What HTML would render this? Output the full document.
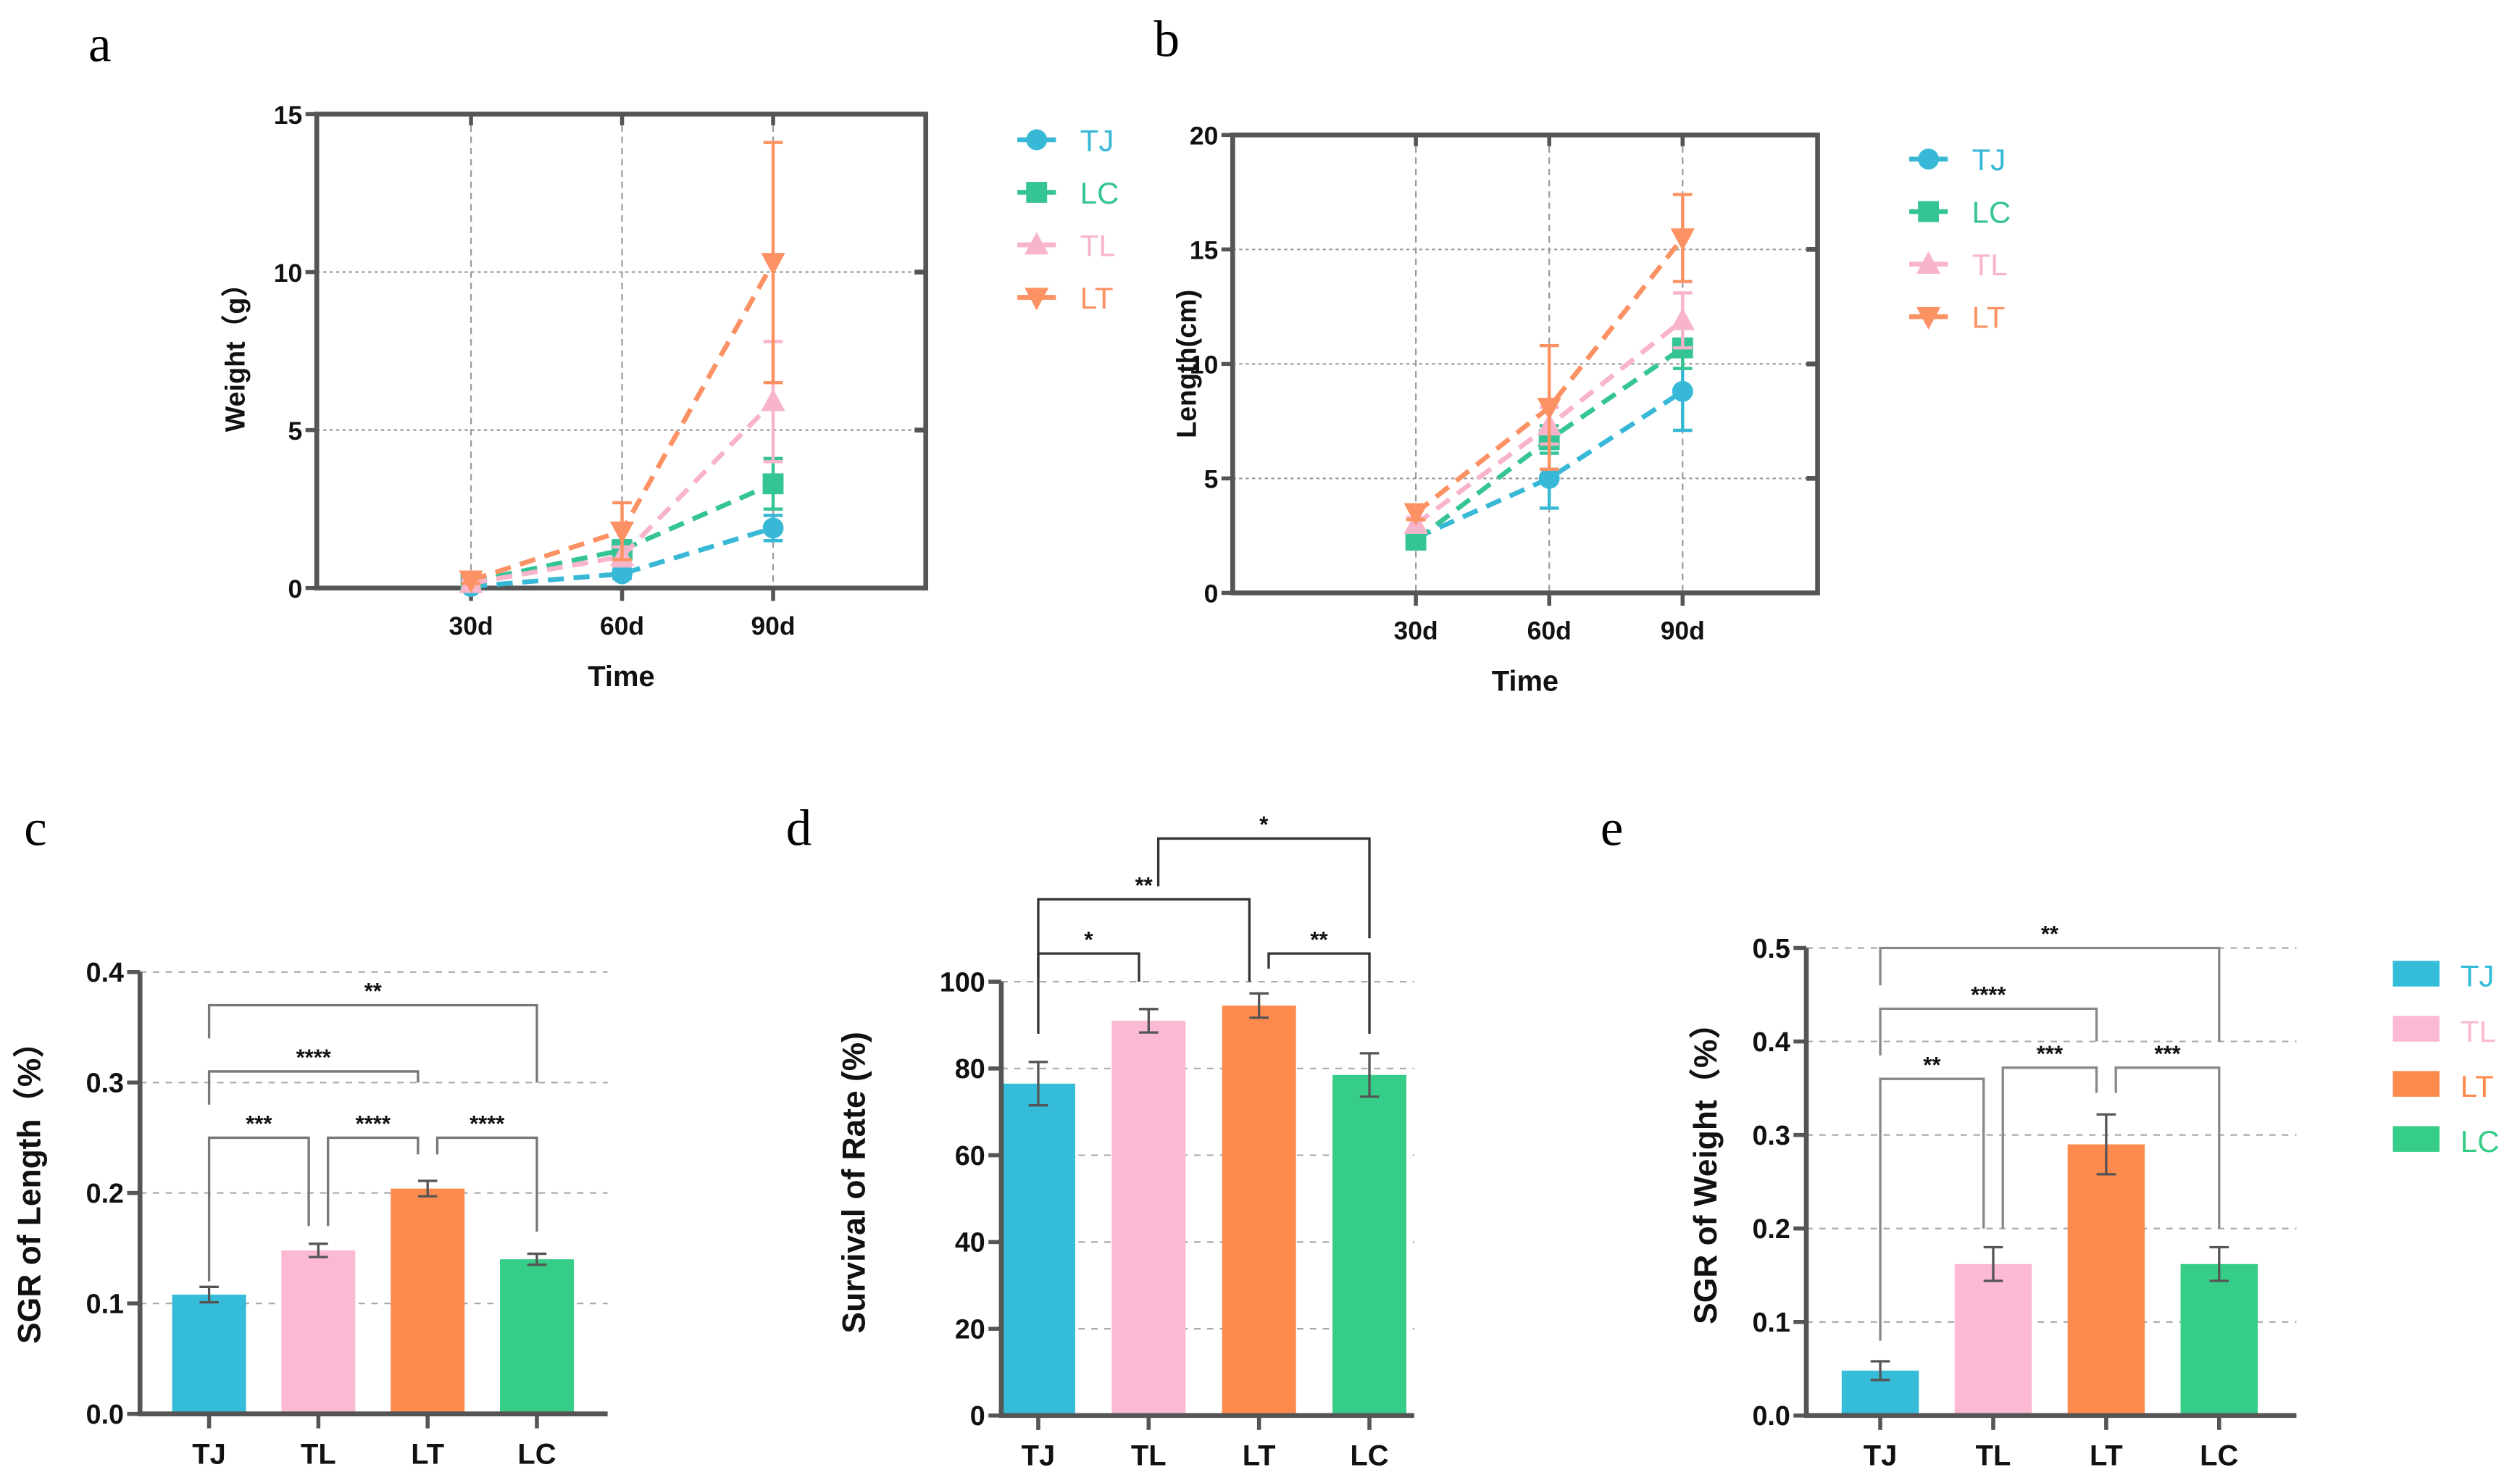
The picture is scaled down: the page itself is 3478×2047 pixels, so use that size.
<!DOCTYPE html>
<html><head><meta charset="utf-8"><style>
html,body{margin:0;padding:0;background:#fff;}
svg{display:block;}
</style></head><body>
<svg id="fig" width="3478" height="2047" viewBox="0 0 1568 923" xmlns="http://www.w3.org/2000/svg" font-family="Liberation Sans, Noto Sans CJK SC, sans-serif"></svg>
<script>
// ---- data: panel a (weight) ----
const timeCats = ["30d","60d","90d"];
const groupsLine = ["TJ","LC","TL","LT"];
const wTJ = [0.05,0.45,1.9], wTJe = [0.05,0.15,0.4];
const wLC = [0.2,1.2,3.3], wLCe = [0.1,0.3,0.8];
const wTL = [0.15,1.0,5.9], wTLe = [0.1,0.3,1.9];
const wLT = [0.25,1.8,10.3], wLTe = [0.1,0.9,3.8];
const wTicks = [0,5,10,15];
// ---- data: panel b (length) ----
const lTJ = [2.4,5.0,8.8], lTJe = [0.3,1.3,1.7];
const lLC = [2.3,6.7,10.7], lLCe = [0.3,0.6,0.9];
const lTL = [3.0,7.3,11.9], lTLe = [0.3,0.8,1.2];
const lLT = [3.5,8.1,15.5], lLTe = [0.3,2.7,1.9];
const lTicks = [0,5,10,15,20];
// ---- data: bar panels ----
const barCats = ["TJ","TL","LT","LC"];
const sgrL = [0.108,0.148,0.204,0.140], sgrLe = [0.007,0.006,0.007,0.005];
const sgrLTicks = ["0.0","0.1","0.2","0.3","0.4"];
const surv = [76.5,91,94.5,78.5], survE = [5,2.7,2.8,5];
const survTicks = ["0","20","40","60","80","100"];
const sgrW = [0.048,0.162,0.290,0.162], sgrWe = [0.010,0.018,0.032,0.018];
const sgrWTicks = ["0.0","0.1","0.2","0.3","0.4","0.5"];
// brackets: [from idx, to idx, level, leftLegEnd, rightLegEnd, label]
const brC = [[0,3,0.37,0.34,0.30,"**"],[0,2,0.31,0.28,0.30,"****"],[0,1,0.25,0.12,0.17,"***"],[1,2,0.25,0.17,0.235,"****"],[2,3,0.25,0.235,0.165,"****"]];
const brD = [[0,1,106.5,88,100,"*"],[0,2,119,101,100,"**"],[1,3,133,122,110,"*"],[2,3,106.5,103,88,"**"]];
const brE = [[0,3,0.5,0.46,0.40,"**"],[0,2,0.435,0.385,0.40,"****"],[0,1,0.36,0.08,0.20,"**"],[1,2,0.372,0.20,0.345,"***"],[2,3,0.372,0.345,0.20,"***"]];

const NS="http://www.w3.org/2000/svg";
const svg=document.getElementById('fig');
function mk(tag,attrs,parent){const e=document.createElementNS(NS,tag);for(const k in attrs)e.setAttribute(k,attrs[k]);(parent||svg).appendChild(e);return e;}
function txt(s,attrs,parent){const e=mk('text',attrs,parent);e.textContent=s;return e;}

const lineColors={TJ:"#37b8d6",LC:"#35c496",TL:"#f8b4cb",LT:"#fc9263"};
const barColors={TJ:"#34bcd8",TL:"#fbb9d3",LT:"#fd8b4e",LC:"#36cd88"};

[["a",62,38],["b",726,35],["c",22,526],["d",497,526],["e",1003,526]].forEach(p=>{
  const t=txt(p[0],{x:p[1],y:p[2],'font-size':32,'text-anchor':'middle',fill:'#000',style:'font-family:"Liberation Serif",serif'});
  
  
});

function marker(g,type,x,y,c){
  let m;
  if(type==="TJ") m=mk('circle',{cx:x,cy:y,r:6.5,fill:c},g);
  else if(type==="LC") m=mk('rect',{x:x-6.5,y:y-6.5,width:13,height:13,fill:c},g);
  else if(type==="TL") m=mk('path',{d:`M${x},${y-8} L${x+7.5},${y+6} L${x-7.5},${y+6}Z`,fill:c},g);
  else m=mk('path',{d:`M${x},${y+8} L${x+7.5},${y-6} L${x-7.5},${y-6}Z`,fill:c},g);
  return m;
}

function lineChart(o){
  const g=mk('g',{});
  
  
  const ys=v=>o.yb-(v-0)/(o.ymax)*(o.yb-o.yt);
  const xs=i=>o.xf+i*o.xstep;
  o.ticks.forEach(t=>{ if(t>0&&t<o.ymax){const l=mk('line',{x1:o.x0,x2:o.x1,y1:ys(t),y2:ys(t),stroke:'#9a9a9a','stroke-width':1,'stroke-dasharray':'2 2'},g);
    }});
  timeCats.forEach((c,i)=>{const l=mk('line',{x1:xs(i),x2:xs(i),y1:o.yt,y2:o.yb,stroke:'#9a9a9a','stroke-width':1,'stroke-dasharray':'4 3'},g);
    });
  const f=mk('rect',{x:o.x0,y:o.yt,width:o.x1-o.x0,height:o.yb-o.yt,fill:'none',stroke:'#555','stroke-width':3},g);
  
  o.ticks.forEach(t=>{
    mk('line',{x1:o.x0-7,x2:o.x0,y1:ys(t),y2:ys(t),stroke:'#555','stroke-width':2.5},g);
    if(t>0&&t<o.ymax) mk('line',{x1:o.x1-7,x2:o.x1,y1:ys(t),y2:ys(t),stroke:'#555','stroke-width':3},g);
    const tl=txt(String(t),{x:o.x0-9,y:ys(t)+6,'font-size':16,'font-weight':'bold','text-anchor':'end',fill:'#111'},g);
    
    
  });
  timeCats.forEach((c,i)=>{
    mk('line',{x1:xs(i),x2:xs(i),y1:o.yb,y2:o.yb+8,stroke:'#555','stroke-width':2.5},g);
    mk('line',{x1:xs(i),x2:xs(i),y1:o.yt,y2:o.yt+7,stroke:'#555','stroke-width':2.5},g);
    const tl=txt(c,{x:xs(i),y:o.yb+29,'font-size':16,'font-weight':'bold','text-anchor':'middle',fill:'#111'},g);
    
    
  });
  const xt=txt("Time",{x:(o.x0+o.x1)/2,y:o.yb+61,'font-size':18,'font-weight':'bold','text-anchor':'middle',fill:'#111'},g);
  
  
  const cy=(o.yt+o.yb)/2;
  const yt=txt(o.ytitle,{x:o.ytx,y:cy,'font-size':17,'font-weight':'bold','text-anchor':'middle',fill:'#111',transform:`rotate(-90 ${o.ytx} ${cy})`},g);
  
  
  o.series.forEach(s=>{
    const sg=mk('g',{},g);
    
    
    const c=lineColors[s.k];
    const pts=s.v.map((v,i)=>xs(i)+','+ys(v)).join(' ');
    const pl=mk('polyline',{points:pts,fill:'none',stroke:c,'stroke-width':3,'stroke-dasharray':'10 6'},sg);
    
    s.v.forEach((v,i)=>{
      const eb=mk('path',{d:`M${xs(i)},${ys(v+s.e[i])}V${ys(v-s.e[i])}M${xs(i)-6},${ys(v+s.e[i])}H${xs(i)+6}M${xs(i)-6},${ys(v-s.e[i])}H${xs(i)+6}`,stroke:c,'stroke-width':2,fill:'none'},sg);
      
      const m=marker(sg,s.k,xs(i),ys(v),c);
      
      
    });
  });
  groupsLine.forEach((k,i)=>{
    const lg=mk('g',{},g);
    
    
    const y=o.ly+i*o.lstep, c=lineColors[k];
    mk('line',{x1:o.lx-12,x2:o.lx+12,y1:y,y2:y,stroke:c,'stroke-width':3},lg);
    marker(lg,k,o.lx,y,c);
    txt(k,{x:o.lx+27,y:y+7,'font-size':19,fill:c},lg);
  });
}

lineChart({name:'chart-a-weight',x0:197,x1:576,yt:71,yb:366,ymax:15,ticks:wTicks,xf:293,xstep:94,ytitle:'Weight（g）',ytx:152,lx:645,ly:87,lstep:32.7,
  series:[{k:'TJ',v:wTJ,e:wTJe},{k:'LC',v:wLC,e:wLCe},{k:'TL',v:wTL,e:wTLe},{k:'LT',v:wLT,e:wLTe}]});
lineChart({name:'chart-b-length',x0:767,x1:1131,yt:84,yb:369,ymax:20,ticks:lTicks,xf:881,xstep:83,ytitle:'Length(cm)',ytx:744,lx:1200,ly:99,lstep:32.7,
  series:[{k:'TJ',v:lTJ,e:lTJe},{k:'LC',v:lLC,e:lLCe},{k:'TL',v:lTL,e:lTLe},{k:'LT',v:lLT,e:lLTe}]});

function barChart(o){
  const g=mk('g',{});
  
  
  const ymax=parseFloat(o.ticks[o.ticks.length-1]);
  const ys=v=>o.yb-v/ymax*(o.yb-o.yt);
  const xs=i=>o.xf+i*o.xstep;
  o.ticks.forEach(ts=>{const t=parseFloat(ts);
    if(t>0){const l=mk('line',{x1:o.x0,x2:o.x1,y1:ys(t),y2:ys(t),stroke:'#aaa','stroke-width':1,'stroke-dasharray':'4 4'},g);
      }
    mk('line',{x1:o.x0-8,x2:o.x0,y1:ys(t),y2:ys(t),stroke:'#555','stroke-width':2.5},g);
    const tl=txt(ts,{x:o.x0-10,y:ys(t)+6,'font-size':17,'font-weight':'bold','text-anchor':'end',fill:'#111'},g);
    
    
  });
  o.vals.forEach((v,i)=>{
    const k=barCats[i];
    const b=mk('rect',{x:xs(i)-o.bw/2,y:ys(v),width:o.bw,height:o.yb-ys(v),fill:barColors[k]},g);
    
    
    const e=o.errs[i];
    const eb=mk('path',{d:`M${xs(i)},${ys(v+e)}V${ys(v-e)}M${xs(i)-6},${ys(v+e)}H${xs(i)+6}M${xs(i)-6},${ys(v-e)}H${xs(i)+6}`,stroke:'#555','stroke-width':1.5,fill:'none'},g);
    
    mk('line',{x1:xs(i),x2:xs(i),y1:o.yb,y2:o.yb+9,stroke:'#555','stroke-width':2.5},g);
    const tl=txt(k,{x:xs(i),y:o.yb+31,'font-size':18,'font-weight':'bold','text-anchor':'middle',fill:'#111'},g);
    
    
  });
  const ax=mk('path',{d:`M${o.x0},${o.yt}V${o.yb}H${o.x1}`,stroke:'#555','stroke-width':3,fill:'none'},g);
  
  const cy=(o.yt+o.yb)/2+o.tyo;
  const yt=txt(o.ytitle,{x:o.ytx,y:cy,'font-size':20,'font-weight':'bold','text-anchor':'middle',fill:'#111',transform:`rotate(-90 ${o.ytx} ${cy})`},g);
  
  
  o.br.forEach(b=>{
    const xa=xs(b[0])+(b[0]>0?6:0), xb=xs(b[1])+(b[1]<3?-6:0);
    const p=mk('path',{d:`M${xa},${ys(b[3])}V${ys(b[2])}H${xb}V${ys(b[4])}`,stroke:o.brc,'stroke-width':1.5,fill:'none'},g);
    
    const s=txt(b[5],{x:(xa+xb)/2,y:ys(b[2])-4,'font-size':14,'font-weight':'bold','text-anchor':'middle',fill:'#111'},g);
    
    
  });
  return g;
}

barChart({name:'chart-c-sgr-length',x0:87,x1:378,yt:605,yb:880,ticks:sgrLTicks,vals:sgrL,errs:sgrLe,xf:130,xstep:68,bw:46,ytitle:'SGR of Length（%）',ytx:25,tyo:-5,br:brC,brc:'#777'});
barChart({name:'chart-d-survival',x0:623,x1:880,yt:611,yb:881,ticks:survTicks,vals:surv,errs:survE,xf:646,xstep:68.7,bw:46,ytitle:'Survival of Rate (%)',ytx:538,tyo:-10,br:brD,brc:'#333'});
barChart({name:'chart-e-sgr-weight',x0:1124,x1:1429,yt:590,yb:881,ticks:sgrWTicks,vals:sgrW,errs:sgrWe,xf:1170,xstep:70.3,bw:48,ytitle:'SGR of Weight（%）',ytx:1068,tyo:-10,br:brE,brc:'#888'});
barCats.forEach((k,i)=>{
  const lg=mk('g',{});
  
  
  const y=606+i*34.3;
  mk('rect',{x:1489,y:y-8,width:29,height:16,fill:barColors[k]},lg);
  txt(k,{x:1531,y:y+8,'font-size':19,fill:barColors[k]},lg);
});
</script>
</body></html>
